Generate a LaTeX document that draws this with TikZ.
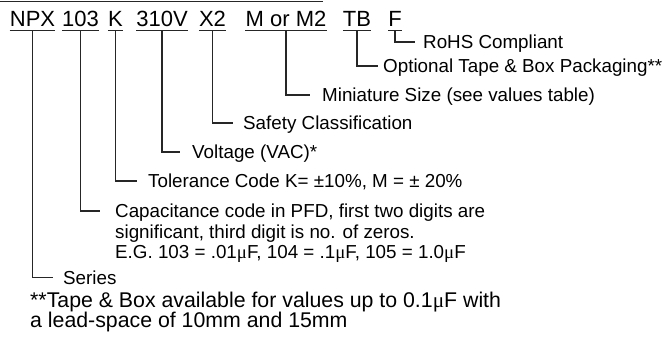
\documentclass[tikz,border=0pt]{standalone}
\usepackage{fontspec}
\setmainfont{Liberation Sans}
\newfontfamily\serifsym{Liberation Serif}
\newcommand{\mymu}{{\serifsym μ}}
\begin{document}
\begin{tikzpicture}[x=1pt,y=-1pt,
  code/.style={inner sep=0pt, anchor=base, font=\fontsize{22}{22}\selectfont, text height=15pt, text depth=3.5pt},
  lbl/.style={inner sep=0pt, anchor=west, font=\fontsize{18.8}{18.8}\selectfont, text height=13.4pt, text depth=0pt},
  note/.style={inner sep=0pt, anchor=west, font=\fontsize{21.3}{21.3}\selectfont, text height=15.2pt, text depth=0pt},
  conn/.style={line width=1.1pt, draw=black!85},
  uline/.style={line width=1pt, draw=black!85}]
\useasboundingbox (0,0) rectangle (668,339);
\draw[uline] (0,1.5) -- (323,1.5);
% code row
\node[code] (npx) at (32.5,27) {NPX};
\node[code] (cap) at (80.5,27) {103};
\node[code] (tol) at (115.5,27) {K};
\node[code] (volt) at (162,27) {310V};
\node[code] (x2) at (212.5,27) {X2};
\node[code] (mini) at (286,27) {M or M2};
\node[code] (tb) at (357,27) {TB};
\node[code] (f) at (395,27) {F};
\foreach \n in {npx,cap,tol,volt,x2,mini,tb,f}
  \draw[uline] (\n.south west) -- (\n.south east);
% labels
\node[lbl] (rohs) at (423,42) {RoHS Compliant};
\node[lbl] (tape) at (383,66) {Optional Tape \& Box Packaging**};
\node[lbl] (size) at (322,95) {Miniature Size (see values table)};
\node[lbl] (safe) at (243,123) {Safety Classification};
\node[lbl] (vac) at (192,152) {Voltage (VAC)*};
\node[lbl] (tcode) at (148,181) {Tolerance Code K= ±10\%, M = ± 20\%};
\node[lbl] (capA) at (115,211) {Capacitance code in PFD, first two digits are};
\node[lbl] (capB) at (115,231.5) {significant, third digit is no. of zeros.};
\node[lbl] (capC) at (115,252) {E.G. 103 = .01\mymu F, 104 = .1\mymu F, 105 = 1.0\mymu F};
\node[lbl] (ser) at (63,277.5) {Series};
\node[note] (noteA) at (30,299.5) {**Tape \& Box available for values up to 0.1\mymu F with};
\node[note] (noteB) at (30,320) {a lead-space of 10mm and 15mm};
% connectors
\draw[conn, shorten >=8pt] (f.south) |- (rohs.west);
\draw[conn, shorten >=5pt] (tb.south) |- (tape.west);
\draw[conn, shorten >=12pt] (mini.south) |- (size.west);
\draw[conn, shorten >=10pt] (x2.south) |- (safe.west);
\draw[conn, shorten >=12pt] (volt.south) |- (vac.west);
\draw[conn, shorten >=11pt] (tol.south) |- (tcode.west);
\draw[conn, shorten >=15pt] (cap.south) |- (capA.west);
\draw[conn, shorten >=10pt] (npx.south) |- (ser.west);
\end{tikzpicture}
\end{document}
